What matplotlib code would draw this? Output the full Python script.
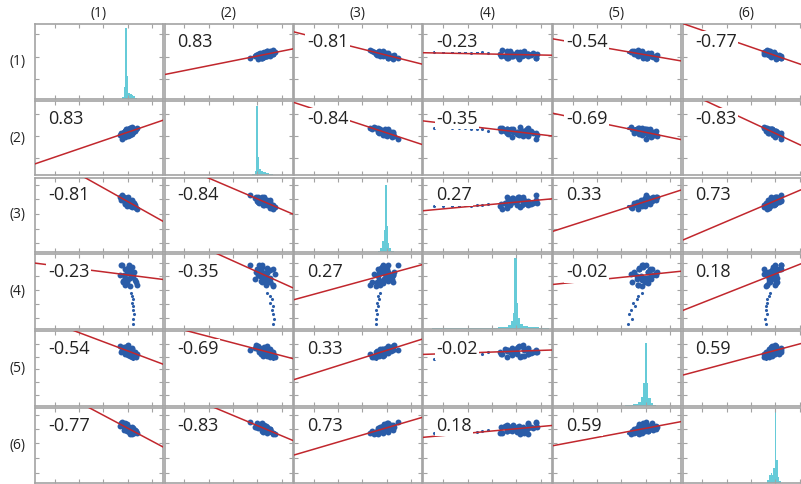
import numpy as np
import matplotlib.pyplot as plt

labels = ["(1)", "(2)", "(3)", "(4)", "(5)", "(6)"]

# correlation coefficients printed in the panels
corr = [
    [1.00, 0.83, -0.81, -0.23, -0.54, -0.77],
    [0.83, 1.00, -0.84, -0.35, -0.69, -0.83],
    [-0.81, -0.84, 1.00, 0.27, 0.33, 0.73],
    [-0.23, -0.35, 0.27, 1.00, -0.02, 0.18],
    [-0.54, -0.69, 0.33, -0.02, 1.00, 0.59],
    [-0.77, -0.83, 0.73, 0.18, 0.59, 1.00],
]

# standardized scores of the six variables, one entry per observation;
# the last nine observations are the low outliers of variable (4)
v1 = [-1.4, -1.9, -0.7, -1.3, -0.2, -1.6, -0.7, -0.3, -0.9, -1.3, 0.1, -0.4,
      -0.8, 0.4, -0.8, 0.0, 0.8, -0.1, -0.5, 0.3, -0.8, 0.8, 0.3, 0.0,
      0.8, -0.3, 1.3, 0.3, 1.1, 0.3, 0.8, 1.6, 0.4, 1.4, 0.9, 1.9,
      0.6, 0.9, 1.0, 0.8, 1.1, 1.0, 1.2, 1.1, 1.0]
v2 = [-2.3, -1.1, -1.2, -0.4, -1.3, -0.4, -1.6, -0.5, 0.0, -0.6, -0.9, 0.4,
      -0.1, -1.0, 0.3, -0.4, -0.7, 0.4, 0.9, -0.3, 0.2, -0.3, 0.9, 0.5,
      -0.4, 1.0, 0.4, 0.9, 0.0, 1.5, 0.4, 1.0, 1.5, 0.5, 1.8, 1.5,
      0.5, 0.9, 1.2, 1.0, 1.4, 1.3, 1.5, 1.6, 1.4]
v3 = [2.2, 1.4, 0.5, 1.4, 1.6, 0.7, 1.2, 0.1, 1.4, 0.6, -0.1, 0.7,
      1.1, 0.2, -0.6, 0.7, 0.3, -0.4, 0.6, -0.7, -0.1, 0.6, -0.5, 0.1,
      -0.3, -1.0, -0.1, 0.2, -0.8, -1.2, -0.2, -1.7, -0.8, -0.7, -1.4, -2.0,
      -0.5, -0.8, -0.7, -1.0, -0.9, -1.1, -1.0, -1.2, -1.1]
v4 = [1.7, 0.1, 1.0, -1.1, 0.5, 1.7, -0.6, 1.0, 0.0, -1.0, 1.8, 0.4,
      -0.5, 1.0, -1.7, 0.6, -0.1, 1.2, -0.7, 0.4, -1.3, -0.1, 0.9, -0.6,
      1.4, -1.1, 0.6, -0.5, -0.1, -1.8, 0.6, -1.1, 1.0, -0.8, 0.2, -1.6,
      -3.0, -3.5, -4.0, -4.6, -5.2, -5.8, -6.5, -7.3, -8.2]
v5 = [0.3, 1.6, 1.1, 0.4, 1.8, -0.1, 0.9, -0.7, 1.3, 0.4, -0.2, 1.6,
      0.1, 0.8, -0.8, 0.5, 1.0, -0.6, 0.1, -1.3, 0.6, -0.4, 0.8, -1.0,
      -0.1, 0.2, -1.4, 0.4, -0.9, -0.2, 0.6, -1.6, -0.7, -0.2, -1.7, -0.8,
      -0.3, -0.8, -1.0, -1.5, -1.2, -1.8, -2.0, -1.6, -2.2]
v6 = [1.8, 0.7, 1.7, 1.0, 0.5, 1.7, 0.5, 1.3, -0.2, 0.8, 0.5, -0.1,
      1.0, 0.1, 0.6, -0.7, 0.4, 0.6, -0.3, 0.0, 0.7, -0.8, 0.0, -0.7,
      0.2, -0.5, -1.1, -0.1, 0.3, -1.2, -0.7, -0.6, -1.5, -0.4, -1.5, -1.0,
      -0.4, -0.7, -0.9, -1.0, -1.1, -1.2, -1.0, -1.3, -1.2]
data = [v1, v2, v3, v4, v5, v6]
n_core = 36  # main cloud; regression lines use it only

# diagonal histograms: bin edges (score units) and relative heights
hist_edges = [
    [-1.5, -1.1, -0.9, -0.7, -0.3, -0.1, 0.3, 0.7, 1.1, 1.5, 1.9],
    [-2.0, -1.6, -1.45, -1.3, -1.05, -0.9, -0.6, -0.2, 0.3, 0.8, 1.5],
    [-0.9, -0.5, -0.2, 0.0, 0.2, 0.45, 0.6, 0.8, 1.1, 1.5],
    [-8.4, -6.0, -4.0, -2.0, -1.0, -0.7, -0.5, -0.4, -0.15, 0.0, 0.2, 0.5,
     1.0, 2.0, 3.0],
    [-2.5, -1.5, -0.8, -0.4, -0.1, 0.15, 0.4, 0.6, 0.9, 1.2, 1.7],
    [-1.0, -0.6, -0.3, 0.0, 0.2, 0.5, 0.85, 1.1, 1.4, 1.8],
]
hist_heights = [
    [0.02, 0.05, 0.15, 0.95, 0.30, 0.08, 0.06, 0.05, 0.03, 0.01],
    [0.02, 0.06, 0.20, 0.93, 0.25, 0.09, 0.06, 0.04, 0.03, 0.02],
    [0.02, 0.05, 0.15, 0.30, 0.90, 0.35, 0.12, 0.05, 0.02],
    [0.012, 0.015, 0.018, 0.025, 0.05, 0.10, 0.22, 0.95, 0.35, 0.15, 0.07,
     0.04, 0.02, 0.012],
    [0.01, 0.02, 0.05, 0.12, 0.30, 0.84, 0.30, 0.10, 0.04, 0.01],
    [0.03, 0.10, 0.13, 0.10, 0.20, 0.95, 0.30, 0.08, 0.02],
]

# where each variable's cloud sits inside a panel (axes fraction) and its half width
x_center = [0.73, 0.78, 0.70, 0.74, 0.71, 0.70]
x_half = [0.07, 0.095, 0.105, 0.16, 0.115, 0.08]
y_center = [0.59, 0.58, 0.67, 0.72, 0.73, 0.72]
y_half = [0.065, 0.08, 0.09, 0.16, 0.09, 0.10]

x_tick_frac = [0.155, 0.345, 0.535, 0.725, 0.915]
y_tick_frac = [
    [0.257, 0.554, 0.865],
    [0.23, 0.53, 0.82],
    [0.12, 0.31, 0.51, 0.71, 0.90],
    [0.147, 0.33, 0.52, 0.707, 0.88],
    [0.15, 0.32, 0.49, 0.66, 0.83],
    [0.13, 0.33, 0.53, 0.72, 0.91],
]

BLUE = "#2a5ca8"
RED = "#c1272d"
CYAN = "#55c6d4"
GRAY = "#a3a3a3"

W, H = 801, 484
fig = plt.figure(figsize=(W / 100, H / 100), dpi=100)
plt.rcParams['font.family'] = ['Open Sans', 'DejaVu Sans']


def limits(center, half):
    scale = half / 2.0
    return -center / scale, (1 - center) / scale


for i in range(6):
    for j in range(6):
        left = 35 + j * 129.5
        top = 24 + i * 76.8
        ax = fig.add_axes([left / W, 1 - (top + 74.5) / H, 128 / W, 74.5 / H])
        x0, x1 = limits(x_center[j], x_half[j])
        ax.set_xlim(x0, x1)
        ax.set_xticks([x0 + f * (x1 - x0) for f in x_tick_frac])

        if i == j:
            ax.set_ylim(0, 1)
            ax.set_yticks(y_tick_frac[i])
            edges = np.array(hist_edges[i])
            ax.bar(edges[:-1], hist_heights[i], width=np.diff(edges), align='edge',
                   color=CYAN, alpha=0.9, linewidth=0)
        else:
            y0, y1 = limits(y_center[i], y_half[i])
            ax.set_ylim(y0, y1)
            ax.set_yticks([y0 + f * (y1 - y0) for f in y_tick_frac[i]])
            xs = np.array(data[j])
            ys = np.array(data[i])
            ax.scatter(xs[:n_core], ys[:n_core], s=18, color=BLUE, linewidths=0, zorder=2)
            ax.scatter(xs[n_core:], ys[n_core:], s=5, color=BLUE, linewidths=0, zorder=2)
            k, b = np.polyfit(xs[:n_core], ys[:n_core], 1)
            ax.plot([x0, x1], [k * x0 + b, k * x1 + b], color=RED, lw=1.1, zorder=3)
            ax.text(0.1, 0.76, f"{corr[i][j]:.2f}", transform=ax.transAxes,
                    ha='left', va='center', fontsize=13, color="#222222", zorder=5,
                    bbox=dict(fc='white', ec='none', pad=1.0))

        ax.set_xticklabels([])
        ax.set_yticklabels([])
        ax.tick_params(direction='in', length=3, width=0.8, color=GRAY,
                       top=True, right=True)
        for sp in ax.spines.values():
            sp.set_color(GRAY)
            sp.set_linewidth(1.2)

        if i == 0:
            ax.text(0.5, 1.0 + 10 / 74.5, labels[j], transform=ax.transAxes,
                    ha='center', va='center', fontsize=10, color="#222222")
        if j == 0:
            ax.text(-17 / 128, 0.5, labels[i], transform=ax.transAxes,
                    ha='center', va='center', fontsize=10, color="#222222")

fig.savefig("out.png", dpi=100)
